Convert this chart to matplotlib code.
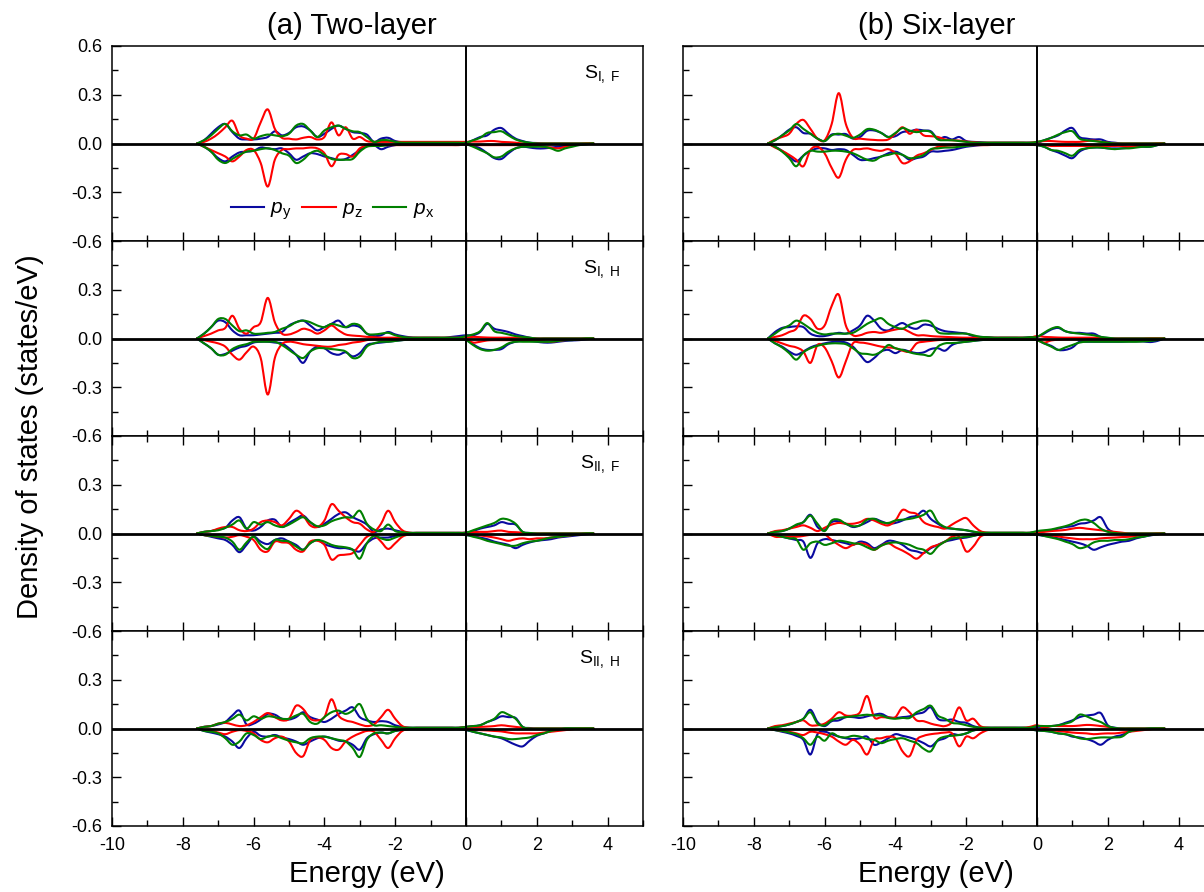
import numpy as np
import matplotlib
matplotlib.use("Agg")
import matplotlib.pyplot as plt
from matplotlib.ticker import MultipleLocator, FuncFormatter
from matplotlib.path import Path
from matplotlib.patches import PathPatch
from matplotlib.lines import Line2D

plt.rcParams['font.family'] = ['Liberation Sans', 'DejaVu Sans']
plt.rcParams['mathtext.fontset'] = 'custom'
plt.rcParams['mathtext.rm'] = 'Liberation Sans'
plt.rcParams['mathtext.it'] = 'Liberation Sans:italic'
plt.rcParams['axes.unicode_minus'] = False

# energy grid (eV), 0.2 eV steps from -7.6 to 3.6
energy = np.linspace(-7.6, 3.6, 57)

# ---- (a) two-layer, S_I,F ----
a1_py_up = [0, .02, .06, .10, .12, .07, .03, .025, .025, .03, .04, .075, .05, .065, .10, .105, .08, .04, .06, .09,
            .11, .09, .07, .065, .055, .01, .03, .035, .015, .008, .005, .005, .005, .005, .005, .005, .005, .005,
            .005, .02, .04, .05, .085, .095, .06, .03, .015, .005, .003, 0, 0, 0, 0, 0, 0, 0, 0]
a1_pz_up = [0, .01, .03, .06, .10, .14, .05, .03, .03, .13, .21, .09, .035, .03, .025, .035, .04, .025, .04, .13,
            .05, .10, .03, .04, .015, .01, .01, .01, .01, .01, .01, .01, .01, .01, .01, .01, .01, .01,
            .01, .012, .012, .015, .015, .01, .008, .005, 0, 0, 0, 0, 0, 0, 0, 0, 0, 0, 0]
a1_px_up = [0, .02, .05, .09, .12, .075, .05, .055, .03, .045, .055, .05, .045, .06, .11, .12, .08, .04, .08, .10,
            .11, .09, .075, .07, .04, .01, .02, .02, .01, .005, .005, .005, .005, .005, .005, .005, .005, .005,
            .005, .02, .035, .065, .07, .075, .05, .025, .012, .005, 0, 0, 0, 0, 0, 0, 0, 0, 0]
a1_py_dn = [0, -.02, -.05, -.09, -.11, -.08, -.055, -.05, -.045, -.025, -.03, -.035, -.03, -.06, -.10, -.08, -.06, -.065, -.08, -.09,
            -.10, -.095, -.07, -.04, -.01, -.01, -.035, -.02, -.01, -.005, -.005, -.005, -.005, -.005, -.005, -.005, -.005, -.005,
            -.005, -.015, -.03, -.06, -.09, -.095, -.06, -.03, -.02, -.025, -.03, -.03, -.025, -.02, -.015, -.01, -.008, -.004, 0]
a1_pz_dn = [0, -.02, -.04, -.06, -.08, -.11, -.08, -.04, -.04, -.12, -.265, -.10, -.04, -.035, -.03, -.03, -.025, -.03, -.06, -.14,
            -.07, -.065, -.08, -.03, -.015, -.01, -.01, -.01, -.01, -.01, -.01, -.01, -.01, -.01, -.01, -.01, -.01, -.01,
            -.005, -.01, -.01, -.01, -.01, -.01, -.01, -.01, -.01, -.012, -.015, -.02, -.025, -.03, -.02, -.01, -.005, 0, 0]
a1_px_dn = [0, -.02, -.05, -.10, -.12, -.095, -.07, -.05, -.045, -.035, -.03, -.04, -.06, -.075, -.12, -.10, -.06, -.045, -.07, -.095,
            -.10, -.10, -.095, -.05, -.02, -.015, -.015, -.01, -.005, -.005, -.005, -.005, -.005, -.005, -.005, -.005, -.005, -.005,
            -.005, -.02, -.04, -.06, -.085, -.08, -.05, -.03, -.02, -.02, -.02, -.02, -.03, -.045, -.03, -.02, -.01, -.005, 0]

# ---- (a) two-layer, S_I,H ----
a2_py_up = [0, .03, .07, .11, .10, .05, .02, .02, .02, .025, .03, .035, .04, .08, .10, .11, .08, .05, .07, .09,
            .11, .07, .08, .07, .03, .015, .02, .04, .025, .015, .008, .005, .005, .005, .005, .005, .01, .015,
            .02, .02, .04, .09, .06, .05, .04, .025, .015, .005, 0, 0, 0, 0, 0, 0, 0, 0, 0]
a2_pz_up = [0, .015, .03, .05, .065, .14, .06, .03, .07, .10, .25, .10, .03, .025, .04, .06, .05, .03, .05, .08,
            .05, .025, .018, .015, .01, .008, .005, .005, .005, .005, .005, .005, .005, .005, .005, .005, .005, .005,
            .005, .01, .008, .006, .005, .005, .005, .005, .005, .003, 0, 0, 0, 0, 0, 0, 0, 0, 0]
a2_px_up = [0, .03, .07, .12, .12, .08, .045, .05, .03, .03, .035, .04, .06, .075, .10, .11, .10, .08, .07, .09,
            .08, .07, .09, .08, .03, .025, .03, .035, .02, .01, .005, .005, .005, .005, .005, .005, .005, .005,
            .015, .025, .045, .095, .045, .035, .025, .015, .01, .005, 0, 0, 0, 0, 0, 0, 0, 0, 0]
a2_py_dn = [0, -.03, -.06, -.10, -.095, -.075, -.055, -.045, -.025, -.02, -.02, -.025, -.03, -.06, -.10, -.15, -.08, -.05, -.06, -.09,
            -.10, -.085, -.11, -.09, -.04, -.03, -.025, -.02, -.015, -.01, -.005, -.005, -.005, -.005, -.005, -.005, -.005, -.005,
            -.01, -.035, -.06, -.07, -.07, -.065, -.035, -.02, -.015, -.015, -.02, -.025, -.025, -.02, -.015, -.012, -.01, -.005, 0]
a2_pz_dn = [0, -.01, -.02, -.03, -.05, -.10, -.13, -.085, -.05, -.12, -.345, -.12, -.035, -.02, -.025, -.035, -.04, -.045, -.05, -.05,
            -.04, -.035, -.025, -.02, -.01, -.005, -.005, -.005, -.005, -.005, -.005, -.005, -.005, -.005, -.005, -.005, -.005, -.005,
            -.005, -.025, -.02, -.012, -.01, -.01, -.01, -.01, -.01, -.012, -.015, -.018, -.02, -.015, -.01, -.008, -.005, 0, 0]
a2_px_dn = [0, -.03, -.06, -.10, -.10, -.065, -.045, -.035, -.02, -.02, -.02, -.02, -.04, -.07, -.10, -.12, -.08, -.06, -.06, -.065,
            -.07, -.08, -.12, -.11, -.05, -.03, -.02, -.02, -.015, -.01, -.008, -.008, -.008, -.008, -.008, -.008, -.008, -.008,
            -.01, -.04, -.065, -.075, -.07, -.055, -.03, -.02, -.02, -.02, -.02, -.02, -.02, -.015, -.01, -.01, -.005, 0, 0]

# ---- (a) two-layer, S_II,F ----
a3_py_up = [0, .01, .015, .025, .035, .08, .10, .03, .018, .04, .08, .085, .04, .065, .09, .11, .07, .04, .06, .09,
            .12, .13, .10, .08, .055, .01, .025, .03, .02, .01, .004, .004, .004, .004, .004, .004, .004, .004,
            .005, .015, .03, .04, .05, .07, .06, .055, .01, .003, 0, 0, 0, 0, 0, 0, 0, 0, 0]
a3_pz_up = [0, .01, .015, .03, .04, .04, .02, .015, .03, .07, .08, .07, .05, .09, .14, .11, .05, .04, .08, .18,
            .14, .10, .07, .06, .025, .01, .06, .14, .07, .02, .005, .004, .004, .004, .004, .004, .004, .004,
            .005, .008, .01, .01, .015, .018, .01, .008, .005, 0, 0, 0, 0, 0, 0, 0, 0, 0, 0]
a3_px_up = [0, .01, .015, .02, .035, .055, .08, .03, .07, .055, .07, .05, .04, .055, .08, .10, .07, .045, .05, .075,
            .09, .10, .10, .14, .06, .025, .015, .055, .015, .008, .004, .004, .004, .004, .004, .004, .004, .004,
            .005, .02, .035, .05, .065, .09, .085, .06, .01, .003, 0, 0, 0, 0, 0, 0, 0, 0, 0]
a3_py_dn = [0, -.01, -.02, -.03, -.04, -.07, -.115, -.07, -.02, -.05, -.065, -.04, -.03, -.05, -.07, -.10, -.06, -.04, -.065, -.08,
            -.09, -.09, -.10, -.11, -.06, -.03, -.025, -.025, -.015, -.01, -.005, -.005, -.005, -.005, -.005, -.005, -.005, -.005,
            -.01, -.015, -.025, -.035, -.05, -.06, -.07, -.09, -.07, -.055, -.045, -.04, -.035, -.025, -.02, -.015, -.01, -.005, 0]
a3_pz_dn = [0, -.01, -.015, -.02, -.025, -.02, -.01, -.02, -.04, -.10, -.11, -.05, -.055, -.06, -.10, -.11, -.05, -.045, -.07, -.16,
            -.135, -.13, -.12, -.07, -.02, -.01, -.05, -.095, -.06, -.02, -.005, -.004, -.004, -.004, -.004, -.004, -.004, -.004,
            -.005, -.008, -.012, -.018, -.025, -.035, -.045, -.035, -.03, -.035, -.03, -.03, -.025, -.02, -.015, -.01, -.005, 0, 0]
a3_px_dn = [0, -.01, -.015, -.02, -.025, -.05, -.10, -.055, -.02, -.07, -.095, -.04, -.045, -.05, -.08, -.10, -.06, -.04, -.05, -.07,
            -.08, -.085, -.10, -.155, -.06, -.015, -.03, -.04, -.025, -.01, -.005, -.005, -.005, -.005, -.005, -.005, -.005, -.005,
            -.008, -.02, -.03, -.045, -.055, -.065, -.075, -.075, -.06, -.05, -.045, -.035, -.025, -.02, -.015, -.01, -.005, 0, 0]

# ---- (a) two-layer, S_II,H ----
a4_py_up = [0, .01, .015, .025, .04, .08, .11, .025, .03, .055, .09, .085, .06, .055, .07, .10, .07, .055, .04, .06,
            .09, .11, .13, .07, .05, .04, .045, .04, .02, .01, .005, .005, .005, .005, .005, .005, .005, .005,
            .01, .015, .02, .04, .055, .075, .07, .065, .01, .003, 0, 0, 0, 0, 0, 0, 0, 0, 0]
a4_pz_up = [0, .01, .015, .03, .035, .025, .015, .02, .04, .07, .095, .07, .05, .06, .14, .12, .06, .05, .07, .18,
            .08, .05, .04, .025, .015, .025, .07, .115, .06, .015, .004, .004, .004, .004, .004, .004, .004, .004,
            .01, .01, .01, .012, .015, .02, .015, .01, .005, 0, 0, 0, 0, 0, 0, 0, 0, 0, 0]
a4_px_up = [0, .01, .015, .03, .04, .06, .085, .05, .075, .06, .075, .07, .06, .06, .08, .09, .04, .03, .07, .10,
            .11, .09, .11, .15, .06, .02, .02, .015, .01, .005, .005, .005, .005, .005, .005, .005, .005, .005,
            .01, .015, .02, .04, .06, .10, .085, .06, .01, 0, 0, 0, 0, 0, 0, 0, 0, 0, 0]
a4_py_dn = [0, -.015, -.025, -.035, -.05, -.08, -.12, -.06, -.02, -.045, -.05, -.04, -.055, -.065, -.08, -.10, -.08, -.06, -.05, -.06,
            -.075, -.08, -.10, -.13, -.06, -.035, -.025, -.03, -.015, -.01, -.005, -.005, -.005, -.005, -.005, -.005, -.005, -.005,
            -.01, -.02, -.03, -.04, -.05, -.06, -.08, -.10, -.11, -.075, -.045, -.03, -.015, -.008, 0, 0, 0, 0, 0]
a4_pz_dn = [0, -.008, -.015, -.025, -.035, -.02, -.01, -.015, -.03, -.07, -.085, -.06, -.05, -.08, -.15, -.17, -.07, -.055, -.07, -.12,
            -.13, -.08, -.05, -.03, -.015, -.02, -.07, -.12, -.06, -.015, -.003, -.003, -.003, -.003, -.003, -.003, -.003, -.003,
            -.003, -.008, -.01, -.012, -.015, -.018, -.025, -.03, -.03, -.03, -.03, -.025, -.02, -.015, -.01, -.005, 0, 0, 0]
a4_px_dn = [0, -.015, -.02, -.03, -.06, -.10, -.08, -.03, -.04, -.065, -.05, -.045, -.06, -.075, -.085, -.09, -.06, -.05, -.05, -.06,
            -.07, -.08, -.12, -.175, -.07, -.03, -.025, -.03, -.015, -.008, -.005, -.005, -.005, -.005, -.005, -.005, -.005, -.005,
            -.008, -.02, -.03, -.04, -.05, -.055, -.065, -.065, -.06, -.055, -.04, -.03, -.015, -.008, 0, 0, 0, 0, 0]

# ---- (b) six-layer, S_I,F ----
b1_py_up = [0, .02, .05, .085, .10, .065, .06, .03, .015, .055, .055, .058, .03, .04, .078, .08, .065, .04, .045, .07,
            .075, .085, .08, .075, .03, .04, .025, .04, .015, .01, .008, .005, .005, .005, .005, .005, .005, .005,
            .005, .02, .035, .05, .08, .095, .04, .03, .025, .025, .01, .005, 0, 0, 0, 0, 0, 0, 0]
b1_pz_up = [0, .025, .04, .06, .12, .145, .09, .03, .02, .12, .31, .12, .035, .03, .025, .022, .02, .025, .06, .10,
            .06, .085, .05, .045, .04, .025, .02, .018, .012, .008, .005, .005, .005, .005, .005, .005, .005, .005,
            .01, .015, .015, .012, .01, .01, .01, .015, .018, .01, .005, 0, 0, 0, 0, 0, 0, 0, 0]
b1_px_up = [0, .02, .05, .08, .12, .09, .06, .03, .015, .05, .06, .048, .035, .055, .088, .085, .065, .04, .065, .095,
            .08, .07, .078, .07, .025, .02, .02, .015, .01, .005, .005, .005, .005, .005, .005, .005, .005, .005,
            .01, .02, .035, .055, .07, .075, .03, .02, .015, .01, .005, 0, 0, 0, 0, 0, 0, 0, 0]
b1_py_dn = [0, -.02, -.045, -.08, -.11, -.075, -.045, -.03, -.03, -.04, -.035, -.04, -.07, -.10, -.10, -.09, -.08, -.06, -.05, -.07,
            -.10, -.09, -.08, -.05, -.05, -.045, -.04, -.03, -.02, -.015, -.01, -.008, -.005, -.005, -.005, -.005, -.005, -.005,
            -.01, -.02, -.04, -.055, -.075, -.09, -.05, -.03, -.025, -.025, -.03, -.03, -.03, -.025, -.02, -.02, -.02, -.01, 0]
b1_pz_dn = [0, -.025, -.045, -.07, -.10, -.14, -.04, -.02, -.06, -.15, -.21, -.10, -.04, -.035, -.03, -.04, -.045, -.035, -.06, -.12,
            -.11, -.075, -.06, -.04, -.02, -.015, -.012, -.01, -.01, -.01, -.01, -.01, -.008, -.008, -.008, -.008, -.008, -.008,
            -.01, -.01, -.015, -.015, -.015, -.015, -.015, -.015, -.015, -.015, -.015, -.015, -.015, -.02, -.015, -.01, -.005, 0, 0]
b1_px_dn = [0, -.02, -.05, -.09, -.14, -.075, -.045, -.05, -.05, -.045, -.045, -.05, -.06, -.08, -.10, -.105, -.08, -.07, -.06, -.07,
            -.09, -.085, -.07, -.035, -.03, -.025, -.025, -.02, -.015, -.01, -.005, -.005, -.005, -.005, -.005, -.005, -.005, -.005,
            -.01, -.02, -.04, -.045, -.06, -.075, -.04, -.03, -.025, -.025, -.03, -.035, -.03, -.03, -.025, -.02, -.02, -.01, 0]

# ---- (b) six-layer, S_I,H ----
b2_py_up = [0, .04, .065, .07, .075, .07, .03, .015, .015, .025, .035, .03, .05, .08, .14, .11, .06, .05, .075, .095,
            .07, .06, .085, .08, .06, .045, .04, .035, .03, .015, .01, .008, .005, .005, .005, .005, .005, .008,
            .01, .03, .055, .065, .045, .035, .035, .03, .03, .01, .003, 0, 0, 0, 0, 0, 0, 0, 0]
b2_pz_up = [0, .01, .02, .04, .06, .14, .12, .06, .08, .20, .27, .08, .02, .02, .035, .04, .035, .045, .055, .06,
            .04, .02, .02, .015, .012, .01, .008, .006, .005, .005, .005, .005, .005, .005, .005, .005, .005, .005,
            .015, .01, .008, .006, .005, .005, .005, .005, .005, .003, 0, 0, 0, 0, 0, 0, 0, 0, 0]
b2_px_up = [0, .03, .06, .08, .11, .09, .06, .035, .025, .03, .03, .03, .035, .06, .09, .11, .125, .09, .07, .06,
            .085, .10, .11, .10, .04, .03, .03, .03, .03, .02, .01, .008, .005, .005, .005, .005, .005, .008,
            .01, .035, .06, .07, .045, .035, .03, .025, .02, .01, .005, 0, 0, 0, 0, 0, 0, 0, 0]
b2_py_dn = [0, -.03, -.05, -.08, -.10, -.08, -.055, -.04, -.03, -.022, -.02, -.025, -.05, -.10, -.145, -.12, -.08, -.07, -.09, -.07,
            -.08, -.09, -.085, -.065, -.06, -.075, -.04, -.025, -.02, -.015, -.01, -.008, -.008, -.008, -.008, -.008, -.008, -.008,
            -.01, -.03, -.045, -.07, -.07, -.055, -.02, -.02, -.02, -.02, -.02, -.02, -.02, -.018, -.018, -.018, -.022, -.015, 0]
b2_pz_dn = [0, -.015, -.03, -.045, -.055, -.08, -.15, -.04, -.055, -.14, -.24, -.14, -.03, -.025, -.03, -.04, -.05, -.055, -.06, -.075,
            -.08, -.03, -.02, -.015, -.01, -.008, -.006, -.005, -.005, -.005, -.005, -.005, -.005, -.005, -.005, -.005, -.005, -.005,
            -.01, -.025, -.012, -.008, -.006, -.005, -.005, -.005, -.005, -.005, -.005, -.005, -.005, -.005, -.005, -.003, 0, 0, 0]
b2_px_dn = [0, -.03, -.055, -.09, -.13, -.085, -.06, -.045, -.035, -.03, -.03, -.035, -.06, -.09, -.095, -.10, -.08, -.04, -.06, -.07,
            -.085, -.095, -.10, -.105, -.05, -.03, -.028, -.025, -.02, -.015, -.01, -.008, -.008, -.008, -.008, -.008, -.008, -.008,
            -.01, -.03, -.05, -.07, -.055, -.04, -.025, -.02, -.02, -.02, -.02, -.02, -.02, -.02, -.02, -.018, -.015, -.01, 0]

# ---- (b) six-layer, S_II,F ----
b3_py_up = [0, .01, .015, .03, .05, .07, .115, .04, .02, .07, .075, .06, .04, .05, .07, .09, .075, .06, .065, .08,
            .10, .11, .14, .09, .06, .035, .03, .025, .02, .01, .004, .004, .004, .004, .004, .004, .004, .004,
            .01, .015, .02, .03, .04, .045, .06, .065, .08, .10, .03, .005, 0, 0, 0, 0, 0, 0, 0]
b3_pz_up = [0, .015, .02, .03, .04, .05, .035, .015, .035, .055, .065, .06, .06, .07, .09, .08, .06, .05, .08, .145,
            .13, .12, .07, .05, .04, .03, .055, .08, .095, .05, .015, .005, .004, .004, .004, .004, .004, .004,
            .008, .01, .015, .018, .022, .03, .035, .03, .025, .02, .015, .01, .005, 0, 0, 0, 0, 0, 0]
b3_px_up = [0, .01, .015, .03, .055, .07, .11, .06, .015, .08, .085, .06, .045, .05, .085, .09, .07, .065, .08, .085,
            .09, .10, .115, .14, .07, .04, .03, .025, .02, .012, .005, .005, .005, .005, .005, .005, .005, .005,
            .015, .02, .025, .035, .045, .06, .08, .085, .065, .03, .01, .003, 0, 0, 0, 0, 0, 0, 0]
b3_py_dn = [0, -.01, -.02, -.03, -.04, -.05, -.15, -.06, -.035, -.04, -.05, -.06, -.07, -.05, -.06, -.09, -.07, -.045, -.05, -.07,
            -.10, -.11, -.12, -.09, -.07, -.05, -.04, -.03, -.025, -.015, -.006, -.006, -.006, -.006, -.006, -.006, -.006, -.006,
            -.008, -.015, -.02, -.03, -.04, -.05, -.06, -.075, -.10, -.085, -.07, -.06, -.05, -.045, -.03, -.02, -.012, -.005, 0]
b3_pz_dn = [0, -.02, -.02, -.02, -.02, -.015, -.008, -.006, -.005, -.04, -.07, -.09, -.07, -.06, -.07, -.10, -.075, -.06, -.085, -.105,
            -.13, -.155, -.12, -.085, -.07, -.05, -.02, -.02, -.11, -.08, -.02, -.005, -.004, -.004, -.004, -.004, -.004, -.004,
            -.005, -.008, -.012, -.018, -.025, -.03, -.035, -.035, -.035, -.03, -.027, -.025, -.022, -.02, -.015, -.01, -.005, 0, 0]
b3_px_dn = [0, -.01, -.02, -.03, -.035, -.10, -.06, -.05, -.07, -.06, -.045, -.05, -.06, -.065, -.085, -.10, -.075, -.06, -.055, -.06,
            -.07, -.09, -.10, -.125, -.08, -.05, -.03, -.025, -.02, -.015, -.005, -.005, -.005, -.005, -.005, -.005, -.005, -.005,
            -.006, -.015, -.025, -.035, -.05, -.065, -.09, -.08, -.055, -.045, -.045, -.04, -.04, -.035, -.025, -.02, -.01, -.005, 0]

# ---- (b) six-layer, S_II,H ----
b4_py_up = [0, .008, .015, .025, .04, .06, .115, .04, .015, .045, .05, .07, .07, .065, .075, .085, .09, .07, .065, .07,
            .075, .09, .10, .13, .06, .05, .055, .04, .035, .015, .005, .005, .005, .005, .005, .005, .005, .005,
            .01, .01, .015, .02, .035, .05, .07, .08, .085, .095, .02, .005, 0, 0, 0, 0, 0, 0, 0]
b4_pz_up = [0, .015, .02, .03, .04, .05, .02, .02, .03, .06, .10, .08, .08, .10, .20, .07, .07, .068, .07, .13,
            .10, .05, .045, .03, .02, .015, .04, .13, .05, .06, .015, .005, .004, .004, .004, .004, .004, .01,
            .02, .005, .015, .015, .015, .015, .018, .022, .02, .015, .01, 0, 0, 0, 0, 0, 0, 0, 0]
b4_px_up = [0, .008, .015, .025, .04, .06, .10, .03, .02, .05, .065, .07, .075, .08, .085, .08, .08, .065, .06, .065,
            .065, .10, .12, .14, .08, .06, .035, .03, .02, .01, .005, .005, .005, .005, .005, .005, .005, .005,
            .015, .015, .015, .02, .03, .045, .085, .075, .055, .04, .015, .003, 0, 0, 0, 0, 0, 0, 0]
b4_py_dn = [0, -.01, -.02, -.03, -.045, -.07, -.16, -.035, -.02, -.035, -.05, -.06, -.065, -.06, -.05, -.10, -.085, -.06, -.035, -.045,
            -.055, -.07, -.09, -.11, -.075, -.06, -.035, -.04, -.03, -.012, -.006, -.006, -.006, -.006, -.006, -.006, -.006, -.006,
            -.012, -.015, -.02, -.03, -.035, -.05, -.055, -.065, -.08, -.10, -.07, -.05, -.04, -.02, -.01, -.005, 0, 0, 0]
b4_pz_dn = [0, -.008, -.015, -.02, -.03, -.04, -.02, -.025, -.035, -.05, -.08, -.10, -.07, -.10, -.16, -.07, -.06, -.05, -.06, -.14,
            -.17, -.07, -.045, -.035, -.03, -.025, -.03, -.11, -.05, -.06, -.03, -.01, -.004, -.004, -.004, -.004, -.004, -.004,
            -.007, -.01, -.012, -.015, -.02, -.025, -.028, -.03, -.035, -.032, -.03, -.03, -.025, -.02, -.015, -.01, -.005, 0, 0]
b4_px_dn = [0, -.01, -.015, -.025, -.035, -.06, -.10, -.05, -.075, -.03, -.05, -.055, -.045, -.05, -.065, -.07, -.09, -.075, -.065, -.06,
            -.075, -.09, -.125, -.14, -.07, -.05, -.045, -.04, -.03, -.012, -.006, -.006, -.006, -.006, -.006, -.006, -.006, -.006,
            -.012, -.015, -.02, -.03, -.035, -.045, -.06, -.065, -.06, -.055, -.055, -.055, -.05, -.02, -.01, -.005, 0, 0, 0]

panel_labels = [r'$\mathrm{S}_{\mathrm{I,\ F}}$', r'$\mathrm{S}_{\mathrm{I,\ H}}$',
                r'$\mathrm{S}_{\mathrm{II,\ F}}$', r'$\mathrm{S}_{\mathrm{II,\ H}}$']
col_titles = ['(a) Two-layer', '(b) Six-layer']
orbital_labels = [r'$p_{\mathrm{y}}$', r'$p_{\mathrm{z}}$', r'$p_{\mathrm{x}}$']
colors = ['#0a0aa0', '#ff0000', '#008000']

columns = [
    [(a1_py_up, a1_pz_up, a1_px_up, a1_py_dn, a1_pz_dn, a1_px_dn),
     (a2_py_up, a2_pz_up, a2_px_up, a2_py_dn, a2_pz_dn, a2_px_dn),
     (a3_py_up, a3_pz_up, a3_px_up, a3_py_dn, a3_pz_dn, a3_px_dn),
     (a4_py_up, a4_pz_up, a4_px_up, a4_py_dn, a4_pz_dn, a4_px_dn)],
    [(b1_py_up, b1_pz_up, b1_px_up, b1_py_dn, b1_pz_dn, b1_px_dn),
     (b2_py_up, b2_pz_up, b2_px_up, b2_py_dn, b2_pz_dn, b2_px_dn),
     (b3_py_up, b3_pz_up, b3_px_up, b3_py_dn, b3_pz_dn, b3_px_dn),
     (b4_py_up, b4_pz_up, b4_px_up, b4_py_dn, b4_pz_dn, b4_px_dn)],
]


def smooth_line(ax, x, y, color, lw):
    # stroke the samples as a Catmull-Rom curve (passes through every point)
    x = np.asarray(x, float)
    y = np.asarray(y, float)
    n = len(x)
    verts = [(x[0], y[0])]
    codes = [Path.MOVETO]
    for i in range(n - 1):
        xa, ya = (x[i - 1], y[i - 1]) if i > 0 else (x[i], y[i])
        xb, yb = (x[i + 2], y[i + 2]) if i + 2 < n else (x[i + 1], y[i + 1])
        verts.append((x[i] + (x[i + 1] - xa) / 6, y[i] + (y[i + 1] - ya) / 6))
        verts.append((x[i + 1] - (xb - x[i]) / 6, y[i + 1] - (yb - y[i]) / 6))
        verts.append((x[i + 1], y[i + 1]))
        codes += [Path.CURVE4] * 3
    ax.add_patch(PathPatch(Path(verts, codes), facecolor='none', edgecolor=color,
                           lw=lw, zorder=2, capstyle='round', joinstyle='round'))


fig = plt.figure(figsize=(12.04, 8.92), dpi=100)

W, H = 1204.0, 892.0
col_left = [112 / W, 683 / W]
ax_w = 531 / W
top = 1 - 46 / H
row_h = 195 / H


def ytick_fmt(row):
    def f(v, pos):
        if abs(v) < 1e-9:
            return '0.0'
        if row > 0 and v > 0.55:
            return ''
        return '%.1f' % v
    return f


for c in range(2):
    for r in range(4):
        ax = fig.add_axes([col_left[c], top - (r + 1) * row_h, ax_w, row_h])
        data = columns[c][r]
        for k in (0, 1, 2):
            for d in (data[k], data[k + 3]):
                assert len(d) == len(energy)
                smooth_line(ax, energy, d, colors[k], 1.5)

        ax.axhline(0, color='k', lw=2.0, zorder=3)
        ax.axvline(0, color='k', lw=1.4, zorder=3)

        ax.set_xlim(-10, 5)
        ax.set_ylim(-0.6, 0.6)
        ax.xaxis.set_major_locator(MultipleLocator(2))
        ax.xaxis.set_minor_locator(MultipleLocator(1))
        ax.yaxis.set_major_locator(MultipleLocator(0.3))
        ax.yaxis.set_minor_locator(MultipleLocator(0.15))
        ax.xaxis.set_major_formatter(FuncFormatter(lambda v, p: '%g' % v))
        ax.yaxis.set_major_formatter(FuncFormatter(ytick_fmt(r)))
        ax.tick_params(which='both', direction='in', top=(r > 0), right=False,
                       labelbottom=(r == 3), labelleft=(c == 0), labelsize=13, width=1)
        ax.tick_params(which='major', length=6.5)
        ax.tick_params(which='minor', length=4)
        ax.tick_params(axis='y', pad=7)
        ax.tick_params(axis='x', pad=8)
        for s in ax.spines.values():
            s.set_linewidth(1.1)

        if c == 0:
            ax.text(0.957, 0.91, panel_labels[r], transform=ax.transAxes,
                    ha='right', va='top', fontsize=14)
        if c == 0 and r == 0:
            handles = [Line2D([], [], color=col, lw=1.5) for col in colors]
            ax.legend(handles, orbital_labels, loc='center', bbox_to_anchor=(0.415, 0.155),
                      ncol=3, frameon=False, fontsize=15, handlelength=1.6,
                      handletextpad=0.3, columnspacing=0.5)
        if r == 3:
            ax.set_xlabel('Energy (eV)', fontsize=21)
            ax.xaxis.label.set_va('center')
            ax.xaxis.set_label_coords(0.48 if c == 0 else 0.476, -(874 - 826) / 195)

fig.text(352 / W, 1 - 26 / H, col_titles[0], ha='center', va='center', fontsize=21)
fig.text(937 / W, 1 - 26 / H, col_titles[1], ha='center', va='center', fontsize=21)
fig.text(30 / W, 0.51, 'Density of states (states/eV)', rotation=90,
         ha='center', va='center', fontsize=21)

fig.savefig('out.png', dpi=100)
